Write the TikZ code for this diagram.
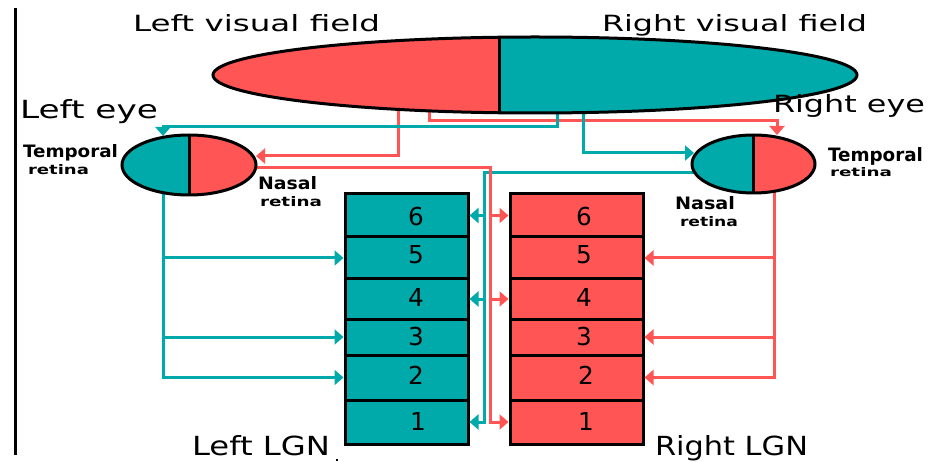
\documentclass[tikz,border=0pt]{standalone}
\usepackage{fontspec}
\usepackage{graphicx}
\usetikzlibrary{shapes.geometric,arrows.meta}
\newfontfamily\pixf{DejaVu Sans}
\newcommand\fitlab[3]{\resizebox{#1pt}{#2pt}{#3}}
\definecolor{tl}{HTML}{00AAAA}
\definecolor{rd}{HTML}{FF5555}
\begin{document}
\begin{tikzpicture}[x=1pt,y=-1pt,
  wire/.style={line width=3pt},
  tlw/.style={wire,draw=tl},
  rdw/.style={wire,draw=rd},
  tip/.style={-{Triangle[width=15pt,length=9pt]}},
  lbl/.style={anchor=base west,inner sep=0pt,outer sep=0pt},
  layerbox/.style={draw=black,line width=3pt,minimum height=#1,inner sep=0pt,outer sep=1.5pt},
  llayer/.style={layerbox=#1,fill=tl,minimum width=123pt},
  rlayer/.style={layerbox=#1,fill=rd,minimum width=133pt},
  dig/.style={inner sep=0pt,font={\pixf\fontsize{24.7pt}{25pt}\selectfont}},
  eyeshape/.style={ellipse,draw=black,line width=3pt,inner sep=0pt},
  split/.style={path picture={
     \fill[tl] (path picture bounding box.south west) rectangle ([xshift=#1]path picture bounding box.north);
     \fill[rd] ([xshift=#1]path picture bounding box.south) rectangle (path picture bounding box.north east);
     \draw[line width=3pt] ([xshift=#1]path picture bounding box.south) -- ([xshift=#1]path picture bounding box.north);}},
  splitrev/.style={path picture={
     \fill[rd] (path picture bounding box.south west) rectangle ([xshift=#1]path picture bounding box.north);
     \fill[tl] ([xshift=#1]path picture bounding box.south) rectangle (path picture bounding box.north east);
     \draw[line width=3pt] ([xshift=#1]path picture bounding box.south) -- ([xshift=#1]path picture bounding box.north);}}
]
\useasboundingbox (0,0) rectangle (934,462);

% left border line
\draw[line width=3pt] (15,8) -- (15,455);

% LGN layers
\node[llayer=43pt] (L6) at (406.5,215.5) {};
\node[llayer=42pt] (L5) at (406.5,258) {};
\node[llayer=40pt] (L4) at (406.5,299) {};
\node[llayer=36pt] (L3) at (406.5,337) {};
\node[llayer=45pt] (L2) at (406.5,377.5) {};
\node[llayer=44pt] (L1) at (406.5,422) {};
\node[rlayer=43pt] (R6) at (576.5,215.5) {};
\node[rlayer=42pt] (R5) at (576.5,258) {};
\node[rlayer=40pt] (R4) at (576.5,299) {};
\node[rlayer=36pt] (R3) at (576.5,337) {};
\node[rlayer=45pt] (R2) at (576.5,377.5) {};
\node[rlayer=44pt] (R1) at (576.5,422) {};

\node[dig] (nl6) at (416,217) {6};
\node[dig] (nl5) at (416,255) {5};
\node[dig] (nl4) at (416,297) {4};
\node[dig] (nl3) at (416,337) {3};
\node[dig] (nl2) at (416,375) {2};
\node[dig] (nl1) at (418,421) {1};
\node[dig] (nr6) at (584,217) {6};
\node[dig] (nr5) at (584,255) {5};
\node[dig] (nr4) at (584,297) {4};
\node[dig] (nr3) at (584,337) {3};
\node[dig] (nr2) at (586,375) {2};
\node[dig] (nr1) at (586,421) {1};

% connector points
\coordinate (vfA) at (398,95);
\coordinate (vfB) at (429,95);
\coordinate (vfC) at (557,95);
\coordinate (vfD) at (583,95);
\coordinate (leN) at (256,156);
\coordinate (leT) at (163,136);
\coordinate (leTk) at (163,127);
\coordinate (reT) at (777,135);
\coordinate (reTk) at (777,121);
\coordinate (reN) at (694,153);
\coordinate (leNo) at (230,168);
\coordinate (leTo) at (163,180);
\coordinate (reNo) at (725,173);
\coordinate (reTo) at (774,180);
\coordinate (rtk) at (490,0);
\coordinate (ltk) at (484,0);

% visual field to eyes
\draw[rdw,tip] (vfA) |- (leN);
\draw[rdw,tip] (vfB) |- (reTk) -- (reT);
\draw[tlw,tip] (vfC) |- (leTk) -- (leT);
\draw[tlw,tip] (vfD) |- (reN);

% left eye temporal -> left LGN 5,3,2
\draw[tlw,tip] (leTo) |- (L2.west);
\draw[tlw,tip] (leTo |- L5.west) -- (L5.west);
\draw[tlw,tip] (leTo |- L3.west) -- (L3.west);

% right eye temporal -> right LGN 5,3,2
\draw[rdw,tip] (reTo) |- (R2.east);
\draw[rdw,tip] (reTo |- R5.east) -- (R5.east);
\draw[rdw,tip] (reTo |- R3.east) -- (R3.east);

% right eye nasal -> left LGN 6,4,1
\draw[tlw,tip] (reNo) -| (ltk |- L1.east) -- (L1.east);
\draw[tlw,tip] (ltk |- L6.east) -- (L6.east);
\draw[tlw,tip] (ltk |- L4.east) -- (L4.east);

% left eye nasal -> right LGN 6,4,1
\draw[rdw,tip] (leNo) -| (rtk |- R1.west) -- (R1.west);
\draw[rdw,tip] (rtk |- R6.west) -- (R6.west);
\draw[rdw,tip] (rtk |- R4.west) -- (R4.west);

% ellipses
\node[eyeshape,splitrev=-36pt,minimum width=644pt,minimum height=76pt] (vf) at (535,75) {};
\node[eyeshape,split=0pt,minimum width=134pt,minimum height=60pt] (leye) at (189,165) {};
\node[eyeshape,split=0pt,minimum width=123pt,minimum height=58pt] (reye) at (753.5,164) {};

% labels
\node[lbl] (tlvf) at (133,32) {\fitlab{247}{17}{\pixf Left visual field}};
\node[lbl] (trvf) at (602,32) {\fitlab{265}{17}{\pixf Right visual field}};
\node[lbl] (tle) at (20,119) {\fitlab{138}{19}{\pixf Left eye}};
\node[lbl] (tre) at (773,113) {\fitlab{152}{18}{\pixf Right eye}};
\node[lbl] (tll) at (192,455) {\fitlab{138}{20}{\pixf Left LGN}};
\node[lbl] (trl) at (655,455) {\fitlab{153}{20}{\pixf Right LGN}};
\fill (336,459) rectangle (338,461);

\node[lbl] (ltr1) at (23,158) {\fitlab{95}{13}{\pixf\bfseries Temporal}};
\node[lbl] (ltr2) at (28,175) {\fitlab{61}{10}{\pixf\bfseries retina}};
\node[lbl] (lna1) at (258,190) {\fitlab{59}{13}{\pixf\bfseries Nasal}};
\node[lbl] (lna2) at (260,207) {\fitlab{62}{10}{\pixf\bfseries retina}};
\node[lbl] (rna1) at (675,210) {\fitlab{60}{13}{\pixf\bfseries Nasal}};
\node[lbl] (rna2) at (680,227) {\fitlab{58}{10}{\pixf\bfseries retina}};
\node[lbl] (rtr1) at (828,162) {\fitlab{95}{14}{\pixf\bfseries Temporal}};
\node[lbl] (rtr2) at (830,177) {\fitlab{62}{9}{\pixf\bfseries retina}};
\end{tikzpicture}
\end{document}
